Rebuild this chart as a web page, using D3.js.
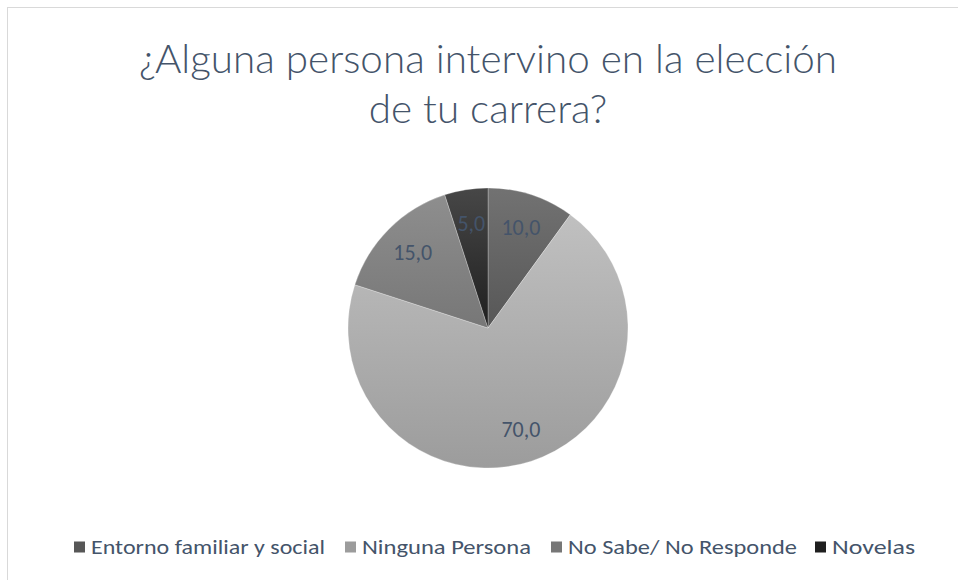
<!DOCTYPE html>
<html>
<head>
<meta charset="utf-8">
<script src="https://cdn.jsdelivr.net/npm/d3@7"></script>
<style>
  body { margin: 0; background: #fff; }
  svg { display: block; }
</style>
</head>
<body>
<div id="chart"></div>
<script>
const width = 958;
const height = 580;

const titleLines = ['¿Alguna persona intervino en la elección', 'de tu carrera?'];
const categories = ['Entorno familiar y social', 'Ninguna Persona', 'No Sabe/ No Responde', 'Novelas'];
const values = [10, 70, 15, 5];
const colorTop = ['#727272', '#c0c0c0', '#8e8e8e', '#474747'];
const colorBottom = ['#575757', '#9c9c9c', '#777777', '#1f1f1f'];

const fontFamily = 'Carlito, Calibri, "Open Sans", sans-serif';
const titleFont = 'Lato, Carlito, sans-serif';
const textColor = '#44546a';

const svg = d3.select('#chart').append('svg')
    .attr('width', width)
    .attr('height', height);

// chart frame
svg.append('rect')
    .attr('x', 7.5)
    .attr('y', 7.5)
    .attr('width', width + 10)
    .attr('height', height + 10)
    .style('fill', '#fff')
    .style('stroke', '#d9d9d9')
    .style('stroke-width', 1);

// title
const titleTarget = 698;
const title = svg.append('g');
let squeeze = 1;
titleLines.forEach((line, i) => {
    const t = title.append('text')
        .attr('x', 488)
        .attr('y', 73 + i * 50)
        .attr('text-anchor', 'middle')
        .style('font-family', titleFont)
        .style('font-weight', 300)
        .style('font-size', '40px')
        .style('fill', textColor)
        .text(line);
    const w = t.node().getComputedTextLength();
    if (i === 0 && w > 0) squeeze = titleTarget / w;
});
title.selectAll('text').each(function () {
    const w = this.getComputedTextLength();
    d3.select(this).attr('textLength', w * squeeze).attr('lengthAdjust', 'spacingAndGlyphs');
});

// gradients
const defs = svg.append('defs');
categories.forEach((c, i) => {
    const g = defs.append('linearGradient')
        .attr('id', 'grad' + i)
        .attr('x1', 0).attr('y1', 0)
        .attr('x2', 0).attr('y2', 1);
    g.append('stop').attr('offset', '0%').attr('stop-color', colorTop[i]);
    g.append('stop').attr('offset', '100%').attr('stop-color', colorBottom[i]);
});

// pie
const cx = 488;
const cy = 328;
const radius = 140;

const pie = d3.pie().sort(null).value(d => d);
const arc = d3.arc().innerRadius(0).outerRadius(radius);
const labelArc = d3.arc().innerRadius(radius * 0.76).outerRadius(radius * 0.76);
const arcs = pie(values);

const pieG = svg.append('g').attr('transform', `translate(${cx},${cy})`);

pieG.selectAll('path')
    .data(arcs)
    .join('path')
    .attr('d', arc)
    .style('fill', (d, i) => `url(#grad${i})`)
    .style('stroke', 'rgba(255,255,255,0.35)')
    .style('stroke-width', 0.75);

const fmt = v => d3.format('.1f')(v).replace('.', ',');

pieG.selectAll('text')
    .data(arcs)
    .join('text')
    .attr('transform', d => `translate(${labelArc.centroid(d)})`)
    .attr('text-anchor', 'middle')
    .attr('dy', '0.35em')
    .style('font-family', fontFamily)
    .style('font-size', '22px')
    .style('fill', textColor)
    .text(d => fmt(d.data));

// legend
const legend = svg.append('g');
const legendY = 547;
const squareSize = 11;
const legendItems = legend.selectAll('g')
    .data(categories)
    .join('g');

legendItems.append('rect')
    .attr('width', squareSize)
    .attr('height', squareSize)
    .attr('y', legendY - squareSize / 2)
    .style('fill', (d, i) => colorBottom[i]);

legendItems.append('text')
    .attr('y', legendY)
    .attr('dy', '0.35em')
    .style('font-family', fontFamily)
    .style('font-size', '21px')
    .style('fill', textColor)
    .text(d => d);

// text start/end positions
const legendTextX = [91, 362, 568, 832];
const legendTextEnd = [325, 531, 797, 915];
legendItems.each(function (d, i) {
    const g = d3.select(this);
    g.select('text')
        .attr('x', legendTextX[i])
        .attr('textLength', legendTextEnd[i] - legendTextX[i])
        .attr('lengthAdjust', 'spacingAndGlyphs');
    g.select('rect').attr('x', legendTextX[i] - 17);
});
</script>
</body>
</html>
